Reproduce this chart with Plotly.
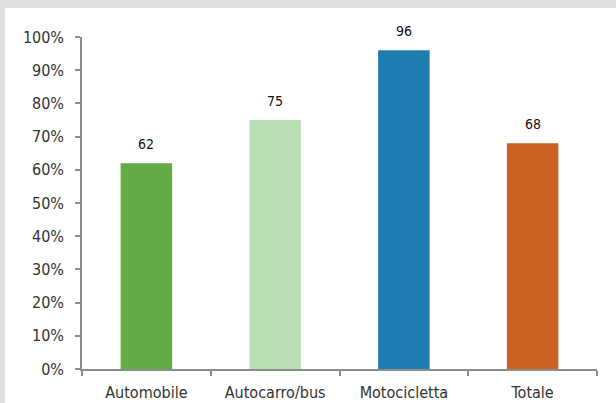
import plotly.graph_objects as go

categories = ["Automobile", "Autocarro/bus", "Motocicletta", "Totale"]
values = [62, 75, 96, 68]
colors = ["#63AB44", "#B9DDB4", "#1F7CB0", "#CC6125"]
y_ticks = list(range(0, 101, 10))
y_tick_labels = [f"{t}%" for t in y_ticks]

W, H = 616, 403
ml, mr, mt, mb = 82, 19, 37, 34
pw, ph = W - ml - mr, H - mt - mb

FONT = "DejaVu Sans Condensed, Liberation Sans, Arial, sans-serif"

fig = go.Figure(go.Bar(
    x=categories, y=values, marker=dict(color=colors, line=dict(width=0)),
    width=0.4, hoverinfo="skip",
))

for c, v in zip(categories, values):
    fig.add_annotation(x=c, y=v, text=str(v), showarrow=False, yanchor="middle",
                       yshift=19, font=dict(size=14, color="#111111", family=FONT))

gray = "#E0E0E0"
fig.add_shape(type="rect", xref="paper", yref="paper",
              x0=-ml / pw, x1=(W - ml) / pw, y0=1 + (mt - 8) / ph, y1=1 + mt / ph,
              fillcolor=gray, line=dict(width=0), layer="below")
fig.add_shape(type="rect", xref="paper", yref="paper",
              x0=-ml / pw, x1=-(ml - 5) / pw, y0=-mb / ph, y1=1 + mt / ph,
              fillcolor=gray, line=dict(width=0), layer="below")

fig.update_layout(
    width=W, height=H, margin=dict(l=ml, r=mr, t=mt, b=mb, autoexpand=False),
    paper_bgcolor="white", plot_bgcolor="white", showlegend=False,
    font=dict(family=FONT, size=16, color="#333333"),
    xaxis=dict(showline=True, linecolor="#8C8C8C", linewidth=1.5, automargin=False,
               ticks="outside", tickson="boundaries", ticklen=5, tickcolor="#8C8C8C",
               tickwidth=1.5, showgrid=False, ticklabelstandoff=8,
               tickfont=dict(size=16, color="#333333")),
    yaxis=dict(range=[0, 100], tickmode="array", tickvals=y_ticks, ticktext=y_tick_labels,
               automargin=False,
               showline=True, linecolor="#8C8C8C", linewidth=1.5, ticks="outside", ticklen=5,
               tickcolor="#8C8C8C", tickwidth=1.5, showgrid=False, zeroline=False,
               ticklabelstandoff=8, tickfont=dict(size=16, color="#333333")),
)

fig.write_html("out.html", config={"displayModeBar": False},
               post_script="document.body.style.margin='0';document.body.style.overflow='hidden';")
